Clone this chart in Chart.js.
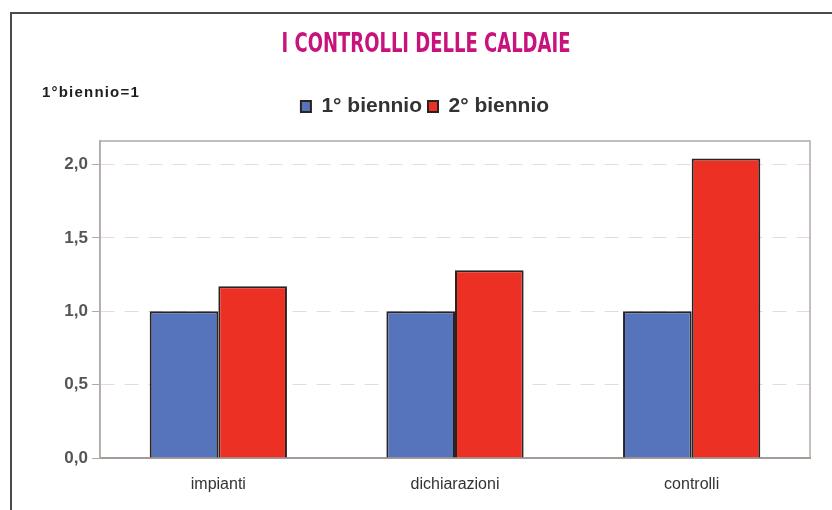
<!DOCTYPE html>
<html lang="it">
<head>
<meta charset="utf-8">
<title>I controlli delle caldaie</title>
<script src="https://cdn.jsdelivr.net/npm/chart.js@4/dist/chart.umd.min.js"></script>
<style>
  html, body { margin: 0; padding: 0; background: #fff; }
  #wrap { position: relative; width: 832px; height: 510px; overflow: hidden; }
  #grafico { position: absolute; left: 0; top: 0; }
  #cornice {
    position: absolute; left: 10px; top: 12px; width: 840px; height: 520px;
    border-top: 2px solid #4a4a4a; border-left: 2px solid #4a4a4a;
    pointer-events: none;
  }
  #titolo {
    position: absolute; left: 126px; top: 33px; width: 600px;
    text-align: center; white-space: nowrap;
    font: bold 20px/20px "DejaVu Sans Condensed", "Liberation Sans Narrow", sans-serif;
    color: #c8137d;
    transform: scaleY(1.3); transform-origin: 50% 50%;
  }
  #nota {
    position: absolute; left: 42px; top: 83px;
    font: bold 15px "Liberation Sans", Arial, sans-serif; color: #1e1e1e;
    letter-spacing: 1.2px;
  }
</style>
</head>
<body>
<div id="wrap">
  <canvas id="grafico" width="832" height="510"></canvas>
  <div id="cornice"></div>
  <div id="titolo">I CONTROLLI DELLE CALDAIE</div>
  <div id="nota">1°biennio=1</div>
</div>
<script>
// dati (1° biennio = 1)
const categorie = ['impianti', 'dichiarazioni', 'controlli'];
const nomiSerie = ['1° biennio', '2° biennio'];
const biennio1 = [1.0, 1.0, 1.0];
const biennio2 = [1.17, 1.28, 2.04];
const tickY = [0, 0.5, 1.0, 1.5, 2.0];

const BLU = '#5674bc';
const ROSSO = '#ec3024';
const BORDO = '#2b2222';

// riquadro grigio intorno all'area del grafico
const riquadro = {
  id: 'riquadro',
  beforeDatasetsDraw(chart) {
    const { ctx, chartArea: a } = chart;
    ctx.save();
    ctx.strokeStyle = '#b3aaa6';
    ctx.lineWidth = 1.5;
    ctx.strokeRect(a.left, a.top, a.right - a.left, a.bottom - a.top);
    ctx.restore();
  }
};

new Chart(document.getElementById('grafico').getContext('2d'), {
  type: 'bar',
  data: {
    labels: categorie,
    datasets: [
      { label: nomiSerie[0], data: biennio1, backgroundColor: BLU, borderColor: BORDO, borderWidth: 2 },
      { label: nomiSerie[1], data: biennio2, backgroundColor: ROSSO, borderColor: BORDO, borderWidth: 2 }
    ]
  },
  options: {
    responsive: false,
    animation: false,
    layout: { padding: { left: 40, right: 22, bottom: 10, top: 90 } },
    datasets: {
      bar: { categoryPercentage: 0.58, barPercentage: 1.0 }
    },
    plugins: {
      title: { display: false },
      legend: {
        display: true,
        position: 'top',
        labels: {
          boxWidth: 10,
          boxHeight: 11,
          padding: 6,
          color: '#333',
          font: { family: '"Liberation Sans", Arial, sans-serif', size: 21, weight: 'bold' }
        }
      },
      tooltip: { enabled: false }
    },
    scales: {
      x: {
        grid: { display: false },
        border: { color: '#7d6f68', width: 2 },
        ticks: {
          color: '#333',
          padding: 9,
          font: { family: '"Liberation Sans", Arial, sans-serif', size: 16 }
        },
        afterFit(scale) { scale.height = 42; }
      },
      // asse vuoto in alto: solo spazio tra legenda e riquadro
      spazio: {
        type: 'category',
        axis: 'x',
        position: 'top',
        grid: { display: false, drawTicks: false },
        border: { display: false },
        ticks: { display: false },
        afterFit(scale) { scale.height = 14; }
      },
      y: {
        min: 0,
        max: 2.16,
        afterBuildTicks(scale) { scale.ticks = tickY.map(v => ({ value: v })); },
        grid: {
          color: ctx => ctx.tick && ctx.tick.value === 0 ? 'rgba(0,0,0,0)' : '#e2dddc',
          tickColor: '#b3aaa6',
          tickLength: 8,
          lineWidth: 1
        },
        border: { color: '#b3aaa6', width: 1.5, dash: [14, 10] },
        ticks: {
          color: '#555',
          padding: 4,
          font: { family: '"Liberation Sans", Arial, sans-serif', size: 17, weight: 'bold' },
          callback: v => Number(v).toFixed(1).replace('.', ',')
        },
        afterFit(scale) { scale.width = 60; }
      }
    }
  },
  plugins: [riquadro]
});
</script>
</body>
</html>
